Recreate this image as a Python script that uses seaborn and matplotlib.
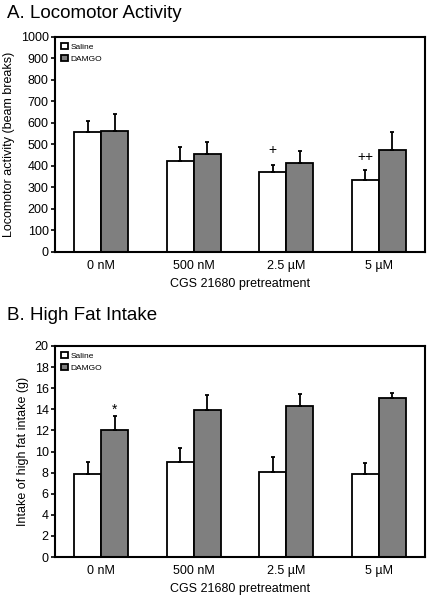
import numpy as np
import pandas as pd
import matplotlib
matplotlib.use('Agg')
import matplotlib.pyplot as plt
import seaborn as sns

# Data
doses = ['0 nM', '500 nM', '2.5 µM', '5 µM']
groups = ['Saline', 'DAMGO']

loco_saline = [560, 422, 372, 335]
loco_damgo = [565, 458, 413, 473]
loco_saline_err = [50, 67, 33, 47]
loco_damgo_err = [75, 55, 58, 85]

fat_saline = [7.9, 9.05, 8.1, 7.9]
fat_damgo = [12.0, 13.9, 14.3, 15.1]
fat_saline_err = [1.1, 1.3, 1.4, 1.0]
fat_damgo_err = [1.4, 1.5, 1.15, 0.45]

sns.set_style('ticks')
plt.rcParams['font.family'] = ['Liberation Sans', 'DejaVu Sans']
for k in ['text.color', 'axes.labelcolor', 'xtick.color', 'ytick.color',
          'axes.edgecolor']:
    plt.rcParams[k] = 'black'

palette = {'Saline': 'white', 'DAMGO': '#7f7f7f'}


def panel(ax, sal, dam, sal_err, dam_err, ylim, step, ylabel):
    df = pd.DataFrame({
        'dose': doses * 2,
        'group': ['Saline'] * 4 + ['DAMGO'] * 4,
        'value': sal + dam,
    })
    sns.barplot(data=df, x='dose', y='value', hue='group', order=doses,
                hue_order=groups, palette=palette, width=0.58,
                edgecolor='black', linewidth=1.3, ax=ax, errorbar=None,
                legend=True)
    errs = sal_err + dam_err
    vals = sal + dam
    bars = [p for p in ax.patches if p.get_height() > 0][:8]
    for p, v, e in zip(bars, vals, errs):
        cx = p.get_x() + p.get_width() / 2
        ax.errorbar(cx, v, yerr=[[0], [e]], fmt='none', ecolor='black',
                    elinewidth=1.3, capsize=1.5, capthick=1.3, zorder=1)
    ax.set_ylim(*ylim)
    ax.set_yticks(np.arange(ylim[0], ylim[1] + step / 2, step))
    ax.set_xlim(-0.5, 3.5)
    ax.set_xlabel('CGS 21680 pretreatment', fontsize=9, labelpad=4)
    ax.set_ylabel(ylabel, fontsize=9)
    ax.tick_params(axis='y', labelsize=9, length=3, width=1.2, pad=1.5)
    ax.tick_params(axis='x', labelsize=9, length=0, pad=6)
    for s in ax.spines.values():
        s.set_linewidth(1.5)
        s.set_visible(True)
    ax.legend(loc='upper left', frameon=False, fontsize=6,
              handlelength=0.8, handleheight=0.8, handletextpad=0.4,
              borderaxespad=0.3, labelspacing=0.45)
    return bars


fig = plt.figure(figsize=(4.35, 6), dpi=100)
ax1 = fig.add_axes([55 / 435, 1 - 252 / 600, 370 / 435, 215 / 600])
ax2 = fig.add_axes([55 / 435, 1 - 557 / 600, 370 / 435, 211 / 600])

b1 = panel(ax1, loco_saline, loco_damgo, loco_saline_err, loco_damgo_err,
           (0, 1000), 100, 'Locomotor activity (beam breaks)')
b2 = panel(ax2, fat_saline, fat_damgo, fat_saline_err, fat_damgo_err,
           (0, 20), 2, 'Intake of high fat intake (g)')

fig.text(7 / 435, 1 - 13 / 600, 'A. Locomotor Activity', fontsize=13.5,
         va='center', ha='left')
fig.text(7 / 435, 1 - 316 / 600, 'B. High Fat Intake', fontsize=13.5,
         va='center', ha='left')

# significance marks
def mark(ax, bar, y, txt):
    ax.text(bar.get_x() + bar.get_width() / 2, y, txt, ha='center',
            va='bottom', fontsize=10)

mark(ax1, b1[2], 440, '+')
mark(ax1, b1[3], 410, '++')
mark(ax2, b2[4], 13.3, '*')

fig.savefig('out.png', dpi=100)
